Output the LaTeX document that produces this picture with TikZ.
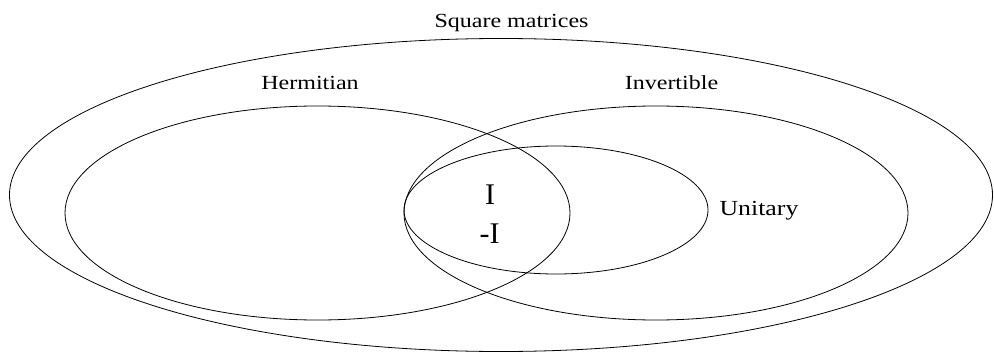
\documentclass[tikz,border=0pt]{standalone}
\usepackage{fontspec}
\setmainfont{Liberation Serif}
\newfontfamily\widefont[FakeStretch=1.2]{Liberation Serif}
\usepackage{tikz}
\usetikzlibrary{positioning}

\begin{document}
\begin{tikzpicture}[x=1pt, y=1pt, line width=0.8pt,
      setlabel/.style={anchor=base, inner sep=0pt, font=\widefont\fontsize{20}{24}\selectfont},
      elem/.style={anchor=base, inner sep=0pt, font=\fontsize{30}{36}\selectfont}]
      \useasboundingbox (0,0) rectangle (994,-353);
      % Sets
      \draw (501,-195) ellipse [x radius=491.5, y radius=156.5];
      \draw (317.5,-213) ellipse [x radius=252.5, y radius=107];
      \draw (656,-213) ellipse [x radius=252, y radius=107];
      \draw (556,-210) ellipse [x radius=152, y radius=64];
      % Set names
      \node[setlabel] (square) at (511.5,-28) {Square matrices};
      \node[setlabel] (herm)   at (310,-90)   {Hermitian};
      \node[setlabel] (inv)    at (671.5,-90) {Invertible};
      \node[setlabel, font=\widefont\fontsize{21.5}{26}\selectfont] (unit) at (759,-215) {Unitary};
      % Elements in the common part
      \node[elem] (id)    at (490,-204)   {I};
      \node[elem] (minid) at (489.5,-243) {-I};
    \end{tikzpicture}
\end{document}
